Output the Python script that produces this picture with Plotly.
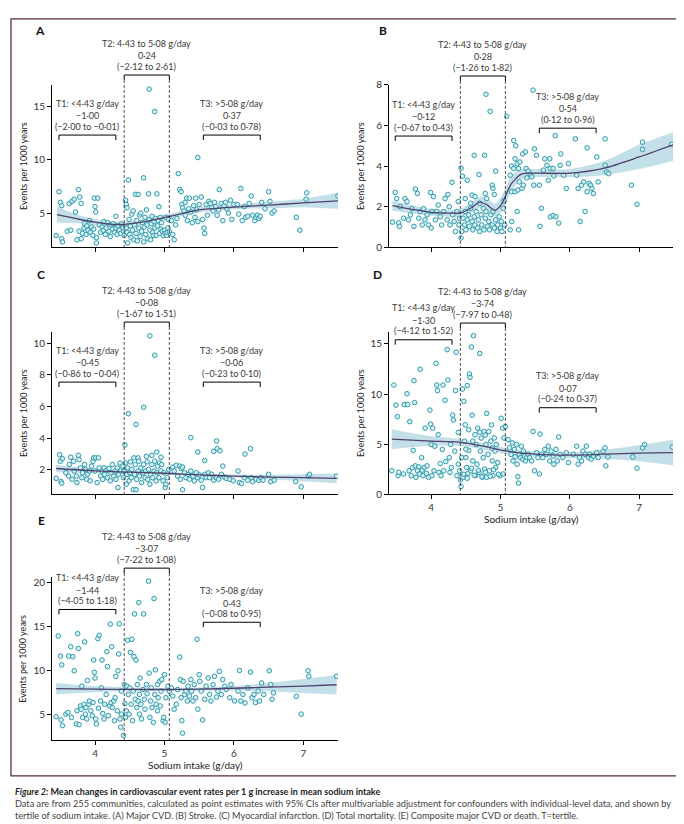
import plotly.graph_objects as go

W, H = 684, 824

# ------------------------------------------------------------------ data
xticks = [4, 5, 6, 7]

# Panel A: Major CVD
sodium_A = [
    3.44, 3.48, 3.50, 3.52, 3.52, 3.53, 3.60, 3.63, 3.65, 3.67, 3.70, 3.72, 3.74, 3.76, 3.77, 3.78, 3.80, 3.80, 3.82, 3.84,
    3.85, 3.87, 3.88, 3.90, 3.92, 3.93, 3.95, 3.97, 3.98, 3.99, 4.00, 4.01, 4.02, 4.02, 4.04, 4.06, 4.08, 4.10, 4.12, 4.13,
    4.15, 4.16, 4.18, 4.20, 4.22, 4.23, 4.25, 4.26, 4.28, 4.30, 4.30, 4.32, 4.33, 4.35, 4.37, 4.38, 4.40, 4.41, 4.42,
    4.44, 4.45, 4.46, 4.45, 4.46, 4.47, 4.48, 4.49, 4.50, 4.51, 4.52, 4.53, 4.54, 4.55, 4.56, 4.57, 4.58, 4.59, 4.60, 4.61,
    4.62, 4.63, 4.64, 4.65, 4.66, 4.67, 4.68, 4.70, 4.70, 4.71, 4.72, 4.73, 4.74, 4.75, 4.76, 4.77, 4.78, 4.78, 4.79, 4.80,
    4.81, 4.82, 4.83, 4.84, 4.85, 4.86, 4.86, 4.87, 4.88, 4.89, 4.90, 4.91, 4.92, 4.93, 4.94, 4.95, 4.96, 4.97, 4.98, 5.00,
    5.01, 5.02, 5.03, 5.04, 5.05, 5.06, 5.07,
    5.10, 5.12, 5.14, 5.16, 5.18, 5.20, 5.22, 5.24, 5.25, 5.26, 5.28, 5.30, 5.30, 5.32, 5.33, 5.35, 5.36, 5.38, 5.40, 5.42,
    5.44, 5.45, 5.46, 5.48, 5.48, 5.50, 5.53, 5.55, 5.57, 5.58, 5.60, 5.62, 5.64, 5.66, 5.68, 5.70, 5.72, 5.74, 5.76, 5.78,
    5.79, 5.82, 5.84, 5.86, 5.88, 5.90, 5.92, 5.95, 5.97, 6.00, 6.05, 6.07, 6.10, 6.12, 6.15, 6.17, 6.20, 6.22, 6.25, 6.27,
    6.30, 6.32, 6.34, 6.36, 6.38, 6.40, 6.45, 6.50, 6.52, 6.55, 6.58, 6.90, 6.95, 7.04, 7.05, 7.50,
]
events_A = [
    2.9, 7.0, 6.0, 5.7, 2.6, 2.3, 3.3, 5.9, 3.4, 6.1, 6.3, 5.1, 2.5, 7.2, 3.3, 6.5, 2.6, 5.9, 3.1, 3.6,
    4.0, 3.0, 3.8, 3.4, 4.3, 3.2, 3.7, 2.9, 3.5, 6.4, 5.6, 5.1, 2.7, 2.2, 6.4, 3.9, 3.2, 3.7, 3.4, 4.2,
    3.0, 3.6, 4.1, 3.3, 2.8, 3.9, 3.5, 4.0, 3.2, 4.7, 3.6, 3.0, 3.8, 3.4, 3.1, 4.0, 3.6, 3.3, 2.9,
    6.2, 5.8, 5.5, 3.6, 3.2, 2.2, 8.1, 4.4, 3.0, 3.8, 2.7, 4.9, 3.4, 5.2, 2.5, 3.9, 6.75, 3.1, 4.3, 2.4,
    6.75, 3.6, 4.8, 2.8, 5.0, 3.3, 4.1, 8.3, 2.3, 3.7, 4.6, 3.0, 5.3, 3.9, 2.6, 6.8, 16.6, 4.4, 3.4, 2.5,
    4.0, 4.7, 3.2, 2.9, 4.2, 14.5, 3.6, 4.5, 2.9, 6.8, 3.8, 4.3, 5.6, 3.1, 4.6, 3.5, 4.1, 3.3, 2.9, 3.4,
    3.1, 4.6, 2.9, 3.2, 3.6, 4.4, 3.3,
    4.3, 3.0, 2.5, 3.9, 4.5, 8.7, 7.2, 7.0, 5.8, 5.5, 5.2, 6.0, 4.8, 6.4, 4.3, 5.4, 6.4, 5.1, 4.1, 5.7,
    4.6, 6.4, 5.3, 4.2, 10.2, 5.8, 6.5, 4.4, 3.6, 3.1, 5.8, 4.8, 6.1, 5.9, 5.5, 5.2, 6.0, 5.6, 4.8, 5.3,
    7.2, 5.9, 4.3, 5.7, 6.0, 5.4, 5.0, 6.2, 4.4, 5.8, 5.8, 4.9, 7.3, 4.3, 5.6, 4.6, 4.7, 5.9, 6.6, 4.8,
    4.3, 4.6, 4.8, 4.5, 4.7, 6.0, 5.4, 7.0, 6.1, 5.0, 5.2, 4.6, 3.4, 6.3, 6.9, 6.6,
]
curve_x_A = [3.45, 3.75, 4.0, 4.25, 4.43, 4.75, 5.08, 5.5, 6.0, 6.5, 7.0, 7.5]
curve_y_A = [4.85, 4.45, 4.15, 3.95, 3.95, 4.25, 4.7, 5.3, 5.55, 5.75, 5.95, 6.15]
curve_lo_A = [4.1, 4.05, 3.85, 3.7, 3.7, 4.0, 4.45, 5.05, 5.35, 5.45, 5.55, 5.4]
curve_hi_A = [5.6, 4.85, 4.45, 4.2, 4.2, 4.5, 4.95, 5.55, 5.8, 6.05, 6.35, 6.9]
yticks_A = [5, 10, 15]
estimates_A = ["\u22121\u00b700", "0\u00b724", "0\u00b737"]
ci_A = ["(\u22122\u00b700 to \u22120\u00b701)", "(\u22122\u00b712 to 2\u00b761)", "(\u22120\u00b703 to 0\u00b778)"]

# Panel B: Stroke
sodium_B = [
    3.44, 3.48, 3.50, 3.53, 3.54, 3.55, 3.60, 3.62, 3.65, 3.67, 3.70, 3.72, 3.75, 3.77, 3.80, 3.82, 3.84, 3.87, 3.89, 3.91,
    3.94, 3.96, 3.99, 4.00, 4.01, 4.03, 4.06, 4.08, 4.10, 4.13, 4.15, 4.18, 4.20, 4.23, 4.24, 4.26, 4.27, 4.30, 4.31, 4.33,
    4.35, 4.37, 4.39, 4.40, 4.41,
    4.79, 4.85, 4.62, 4.77, 4.69, 4.93, 4.43, 4.45, 4.52, 4.59, 4.63, 4.78, 4.88, 4.89, 4.91, 4.80,
    4.43, 4.44, 4.46, 4.48, 4.49, 4.50, 4.52, 4.54, 4.55, 4.57, 4.59, 4.60, 4.62, 4.63, 4.65, 4.67, 4.68, 4.70, 4.72, 4.73,
    4.75, 4.76, 4.78, 4.79, 4.81, 4.83, 4.84, 4.86, 4.88, 4.89, 4.91, 4.93, 4.95, 4.96, 4.98, 5.00, 5.01, 5.02, 5.04, 5.05,
    5.06, 4.57, 4.70, 4.49,
    5.09, 5.19, 5.22, 5.16, 5.19, 5.14, 5.21, 5.24, 5.26, 5.28, 5.32, 5.36, 5.37, 5.40, 5.43, 5.16, 5.21, 5.25, 5.27, 5.31,
    5.33, 5.38, 5.45, 5.48, 5.49, 5.47, 5.52, 5.56, 5.59, 5.57, 5.24, 5.16, 5.14, 5.26, 5.62, 5.64, 5.71, 5.67, 5.72, 5.69,
    5.79, 5.76, 5.77, 5.72, 5.76, 5.80, 5.84, 5.86, 5.87, 5.91, 5.95, 5.98, 6.08, 6.10, 6.12, 6.15, 6.17, 6.20, 6.22, 6.25,
    6.25, 6.28, 6.30, 6.32, 6.34, 6.39, 6.41, 6.51, 6.51, 6.53, 6.56, 6.89, 6.97, 7.05, 7.05, 7.47,
]
events_B = [
    1.24, 2.70, 2.40, 1.20, 1.03, 2.00, 1.43, 2.40, 2.25, 1.35, 1.60, 1.90, 1.03, 2.87, 2.65, 1.43, 1.76, 1.10, 1.90, 1.35,
    1.60, 1.10, 2.70, 0.95, 1.76, 2.50, 1.35, 1.76, 2.08, 1.50, 1.10, 1.76, 2.40, 1.35, 2.60, 2.00, 1.10, 3.20, 1.60, 1.27,
    0.78, 1.76, 2.25, 1.10, 1.43,
    7.54, 6.70, 4.53, 4.53, 3.58, 3.75, 3.90, 3.50, 3.30, 2.57, 2.50, 2.65, 3.06, 2.90, 2.60, 2.40,
    0.46, 0.78, 1.43, 1.10, 1.76, 0.86, 1.35, 1.60, 1.03, 1.92, 1.27, 0.86, 1.50, 1.10, 1.76, 0.95, 1.35, 0.78, 1.60, 1.10,
    1.92, 0.86, 1.43, 1.76, 1.03, 1.27, 0.86, 1.60, 1.10, 1.76, 0.95, 1.35, 0.78, 1.10, 1.50, 0.95, 1.27, 0.78, 1.92, 2.28,
    1.10, 2.17, 2.17, 2.40,
    6.45, 5.26, 5.00, 4.00, 3.88, 3.55, 4.36, 4.12, 3.88, 4.20, 4.60, 4.70, 3.88, 3.75, 3.60, 2.74, 2.74, 2.82, 3.22, 2.90,
    3.06, 3.42, 3.47, 3.06, 4.85, 7.74, 4.53, 3.06, 1.92, 1.03, 1.76, 1.27, 0.86, 0.86, 3.80, 4.36, 4.36, 4.04, 3.88, 3.30,
    5.50, 3.88, 3.52, 1.50, 1.56, 1.50, 1.19, 4.04, 4.60, 3.55, 2.90, 4.12, 5.34, 3.55, 2.90, 1.27, 3.06, 3.22, 1.76, 4.90,
    2.74, 3.14, 3.06, 2.90, 2.65, 4.45, 3.22, 5.34, 4.04, 3.71, 3.63, 3.06, 2.12, 5.18, 4.82, 5.07,
]
curve_x_B = [3.44, 3.75, 4.0, 4.25, 4.43, 4.58, 4.7, 4.8, 4.92, 5.02, 5.15, 5.3, 5.5, 6.0, 6.5, 7.0, 7.49]
curve_y_B = [2.05, 1.85, 1.72, 1.68, 1.7, 1.95, 2.22, 2.1, 1.82, 2.15, 3.1, 3.6, 3.65, 3.65, 3.9, 4.45, 5.05]
curve_lo_B = [1.8, 1.65, 1.55, 1.5, 1.5, 1.7, 1.95, 1.8, 1.5, 1.75, 2.7, 3.35, 3.45, 3.45, 3.55, 3.85, 4.25]
curve_hi_B = [2.3, 2.05, 1.9, 1.85, 1.9, 2.2, 2.5, 2.4, 2.15, 2.55, 3.5, 3.85, 3.85, 3.85, 4.25, 5.05, 5.65]
yticks_B = [0, 2, 4, 6, 8]
estimates_B = ["\u22120\u00b712", "0\u00b728", "0\u00b754"]
ci_B = ["(\u22120\u00b767 to 0\u00b743)", "(\u22121\u00b726 to 1\u00b782)", "(0\u00b712 to 0\u00b796)"]

# Panel C: Myocardial infarction
sodium_C = [
    3.44, 3.49, 3.50, 3.51, 3.52, 3.53, 3.58, 3.62, 3.63, 3.65, 3.67, 3.69, 3.70, 3.73, 3.74, 3.76, 3.77, 3.79, 3.81, 3.82,
    3.85, 3.86, 3.88, 3.89, 3.92, 3.93, 3.95, 3.97, 3.98, 4.00, 4.01, 4.03, 4.05, 4.06, 4.08, 4.10, 4.11, 4.13, 4.14, 4.16,
    4.18, 4.20, 4.22, 4.23, 4.25, 4.27, 4.29, 4.30, 4.32, 4.33, 4.34, 4.36, 4.37,
    4.79, 4.86, 4.70, 4.48, 4.59, 4.43, 4.89, 4.82, 4.56, 4.62, 4.74, 4.95,
    4.40, 4.41, 4.42, 4.44, 4.45, 4.46, 4.47, 4.49, 4.50, 4.51, 4.52, 4.53, 4.55, 4.57, 4.58, 4.59, 4.60, 4.62, 4.63, 4.64,
    4.66, 4.67, 4.69, 4.70, 4.72, 4.73, 4.75, 4.76, 4.77, 4.79, 4.80, 4.82, 4.83, 4.85, 4.86, 4.88, 4.89, 4.90, 4.92, 4.93,
    4.95, 4.96, 4.98, 4.99, 5.01, 5.02, 5.04, 5.06,
    5.38, 5.48, 5.75, 5.76, 5.80, 5.71, 5.84, 6.16, 6.24, 5.58, 5.12, 5.17, 5.22, 5.24, 5.26, 5.14, 5.19, 5.23, 5.26, 5.29,
    5.31, 5.34, 5.36, 5.38, 5.41, 5.43, 5.46, 5.48, 5.50, 5.53, 5.55, 5.58, 5.60, 5.63, 5.65, 5.68, 5.71, 5.75, 5.78, 5.82,
    5.86, 5.89, 5.94, 5.99, 6.06, 6.08, 6.11, 6.15, 6.20, 6.25, 6.27, 6.32, 6.36, 6.39, 6.42, 6.50, 6.53, 6.58, 6.89, 6.97,
    7.07, 7.09, 7.48,
]
events_C = [
    1.46, 2.95, 2.54, 1.25, 1.15, 2.70, 1.81, 1.60, 2.33, 2.79, 1.40, 2.54, 1.92, 1.60, 1.19, 2.91, 2.64, 2.12, 1.50, 1.81,
    2.33, 2.02, 1.40, 1.71, 1.92, 1.30, 2.23, 2.54, 2.75, 1.92, 2.75, 1.19, 2.75, 2.12, 1.60, 1.92, 1.40, 2.12, 1.71, 1.96,
    1.50, 2.08, 1.30, 1.81, 2.33, 1.60, 1.92, 1.40, 2.12, 0.88, 1.71, 2.43, 1.92,
    10.45, 9.23, 5.95, 5.54, 4.86, 3.57, 3.12, 2.91, 2.75, 2.75, 2.85, 2.79,
    2.23, 1.50, 1.92, 2.43, 1.09, 1.71, 2.12, 1.30, 1.81, 2.50, 1.50, 2.02, 0.74, 1.71, 2.33, 0.74, 1.40, 1.92, 2.54, 1.60,
    2.12, 1.19, 1.81, 2.33, 1.50, 1.92, 2.50, 1.40, 2.02, 1.09, 1.71, 2.33, 1.50, 1.92, 2.54, 1.30, 1.81, 2.23, 1.50, 2.43,
    1.92, 2.33, 1.30, 1.81, 0.88, 1.09, 1.50, 2.02,
    4.03, 3.12, 3.82, 3.33, 3.20, 3.16, 2.23, 2.99, 3.33, 2.58, 2.17, 2.29, 2.23, 2.08, 2.17, 1.92, 1.60, 1.40, 0.74, 1.81,
    1.50, 1.71, 1.40, 1.92, 1.60, 1.30, 1.81, 1.50, 1.67, 1.34, 0.88, 1.71, 1.50, 1.81, 1.50, 1.71, 1.34, 1.50, 1.40, 1.71,
    1.54, 1.46, 1.40, 1.30, 1.92, 1.19, 1.13, 1.50, 1.34, 1.50, 1.25, 1.40, 1.34, 1.50, 1.34, 1.71, 1.25, 1.34, 1.25, 0.92,
    1.60, 1.71, 1.59,
]
curve_x_C = [3.44, 4.0, 4.5, 5.0, 5.5, 6.0, 6.5, 7.0, 7.48]
curve_y_C = [2.08, 1.93, 1.85, 1.78, 1.68, 1.6, 1.54, 1.5, 1.45]
curve_lo_C = [1.85, 1.8, 1.75, 1.7, 1.6, 1.5, 1.4, 1.28, 1.15]
curve_hi_C = [2.3, 2.06, 1.95, 1.86, 1.76, 1.7, 1.68, 1.72, 1.78]
yticks_C = [2, 4, 6, 8, 10]
estimates_C = ["\u22120\u00b745", "\u22120\u00b708", "\u22120\u00b706"]
ci_C = ["(\u22120\u00b786 to \u22120\u00b704)", "(\u22121\u00b767 to 1\u00b751)", "(\u22120\u00b723 to 0\u00b710)"]

# Panel D: Total mortality
sodium_D = [
    3.43, 3.46, 3.49, 3.51, 3.52, 3.53, 3.60, 3.61, 3.65, 3.66, 3.69, 3.68, 3.71, 3.73, 3.74, 3.75, 3.76, 3.77, 3.78, 3.80,
    3.82, 3.83, 3.84, 3.86, 3.87, 3.88, 3.90, 3.91, 3.93, 3.94, 3.96, 3.98, 3.99, 4.00, 4.01, 4.02, 4.04, 4.05, 4.07, 4.08,
    4.09, 4.10, 4.11, 4.13, 4.14, 4.16, 4.17, 4.18, 4.20, 4.21, 4.23, 4.24, 4.26, 4.27, 4.28, 4.29, 4.31, 4.32, 4.34, 4.35,
    4.36, 4.37, 4.39, 4.39,
    4.41, 4.42, 4.43, 4.44, 4.45, 4.46, 4.47, 4.48, 4.49, 4.50, 4.51, 4.52, 4.53, 4.54, 4.54, 4.55, 4.56, 4.57, 4.58, 4.59,
    4.60, 4.61, 4.63, 4.64, 4.65, 4.66, 4.67, 4.69, 4.70, 4.71, 4.72, 4.74, 4.75, 4.76, 4.77, 4.79, 4.80, 4.80, 4.82, 4.83,
    4.84, 4.86, 4.87, 4.88, 4.89, 4.91, 4.92, 4.93, 4.94, 4.96, 4.99, 5.01, 5.03, 5.04, 5.05, 5.07,
    4.47, 4.52, 4.58, 4.62, 4.68, 4.73, 4.78, 4.85, 4.90, 4.97, 4.50, 4.60, 4.70, 4.78, 4.88,
    5.11, 5.13, 5.15, 5.17, 5.18, 5.20, 5.21, 5.23, 5.24, 5.25, 5.26, 5.27, 5.29, 5.30, 5.32, 5.33, 5.35, 5.36, 5.38, 5.40,
    5.42, 5.45, 5.47, 5.49, 5.52, 5.54, 5.56, 5.57, 5.59, 5.61, 5.64, 5.66, 5.69, 5.71, 5.73, 5.76, 5.77, 5.80, 5.82, 5.84,
    5.86, 5.90, 5.95, 5.98, 6.05, 6.10, 6.12, 6.14, 6.17, 6.19, 6.22, 6.24, 6.27, 6.29, 6.31, 6.34, 6.39, 6.41, 6.48, 6.51,
    6.52, 6.55, 6.91, 6.97, 7.05, 7.08, 7.48,
]
events_D = [
    2.35, 10.9, 8.9, 7.75, 1.86, 2.19, 2.03, 8.95, 10.03, 8.95, 7.25, 2.35, 1.86, 2.68, 4.38, 11.34, 9.15, 2.84, 1.70, 2.35,
    2.75, 2.03, 12.48, 3.66, 2.42, 1.86, 2.68, 6.60, 2.09, 2.84, 1.70, 8.40, 7.00, 4.97, 1.86, 6.60, 2.35, 4.80, 13.07, 10.9,
    10.35, 5.95, 2.19, 3.07, 1.86, 4.48, 10.9, 2.35, 9.38, 3.27, 14.44, 11.4, 3.66, 2.19, 4.97, 2.68, 7.90, 7.42, 4.31, 10.35,
    14.18, 1.86, 3.00, 6.17,
    2.35, 1.44, 0.78, 3.66, 10.5, 1.70, 9.28, 5.30, 6.93, 3.66, 2.68, 10.85, 2.09, 6.44, 4.38, 12.0, 11.67, 2.35, 14.7, 7.90,
    3.33, 15.82, 5.95, 1.86, 4.97, 3.00, 6.60, 2.19, 14.05, 4.31, 5.62, 1.70, 3.66, 6.27, 2.52, 4.97, 8.07, 1.70, 3.99, 6.27,
    2.35, 5.30, 6.93, 3.33, 1.86, 5.62, 4.31, 2.68, 4.97, 3.17, 1.86, 7.58, 6.60, 2.03, 5.62, 6.76,
    2.0, 1.6, 2.6, 1.9, 2.4, 1.75, 2.2, 1.8, 2.45, 2.0, 4.5, 5.3, 6.2, 5.9, 4.6,
    5.46, 4.64, 3.99, 5.13, 3.33, 4.48, 3.73, 4.97, 3.00, 1.76, 1.11, 3.99, 3.66, 4.80, 3.50, 4.31, 3.82, 3.33, 3.66, 3.99,
    3.66, 3.33, 6.27, 2.35, 4.15, 3.66, 2.03, 6.01, 3.99, 3.66, 4.48, 3.99, 4.80, 3.33, 4.31, 3.82, 3.00, 4.48, 3.33, 5.72,
    3.99, 3.66, 4.15, 3.17, 3.99, 4.80, 3.00, 3.66, 3.33, 4.31, 3.99, 4.80, 3.66, 3.99, 3.50, 3.82, 4.15, 3.66, 4.31, 4.64,
    2.84, 3.73, 3.73, 2.61, 4.64, 4.97, 4.71,
]
curve_x_D = [3.43, 4.0, 4.4, 4.75, 5.1, 5.5, 6.0, 6.5, 7.0, 7.49]
curve_y_D = [5.5, 5.3, 5.2, 4.8, 4.3, 4.0, 3.9, 4.0, 4.1, 4.15]
curve_lo_D = [4.5, 4.85, 4.85, 4.5, 4.0, 3.75, 3.6, 3.55, 3.3, 2.9]
curve_hi_D = [6.5, 5.8, 5.55, 5.1, 4.6, 4.25, 4.2, 4.45, 4.9, 5.45]
yticks_D = [0, 5, 10, 15]
estimates_D = ["\u22121\u00b730", "\u22123\u00b774", "0\u00b707"]
ci_D = ["(\u22124\u00b712 to 1\u00b752)", "(\u22127\u00b797 to 0\u00b748)", "(\u22120\u00b724 to 0\u00b737)"]

# Panel E: Composite major CVD or death
sodium_E = [
    3.44, 3.47, 3.50, 3.51, 3.52, 3.53, 3.58, 3.61, 3.62, 3.65, 3.66, 3.68, 3.70, 3.73, 3.74, 3.75, 3.76, 3.77, 3.79, 3.80,
    3.81, 3.82, 3.84, 3.85, 3.86, 3.87, 3.88, 3.89, 3.91, 3.92, 3.94, 3.96, 3.97, 3.98, 3.99, 4.00, 4.01, 4.02, 4.04, 4.05,
    4.06, 4.08, 4.09, 4.10, 4.11, 4.13, 4.14, 4.16, 4.17, 4.18, 4.19, 4.21, 4.22, 4.23, 4.24, 4.25, 4.27, 4.28, 4.29, 4.30,
    4.32, 4.33, 4.34, 4.35, 4.36, 4.37, 4.38, 4.38,
    4.41, 4.42, 4.43, 4.44, 4.45, 4.46, 4.47, 4.48, 4.49, 4.50, 4.51, 4.52, 4.53, 4.54, 4.55, 4.56, 4.57, 4.58, 4.59, 4.60,
    4.61, 4.62, 4.63, 4.64, 4.64, 4.65, 4.66, 4.67, 4.69, 4.70, 4.71, 4.72, 4.74, 4.75, 4.77, 4.78, 4.79, 4.80, 4.81, 4.82,
    4.84, 4.85, 4.86, 4.87, 4.88, 4.90, 4.90, 4.91, 4.93, 4.94, 4.95, 4.96, 4.98, 4.99, 5.00, 5.01, 5.02, 5.05, 5.07,
    5.10, 5.12, 5.14, 5.17, 5.19, 5.22, 5.23, 5.24, 5.25, 5.26, 5.27, 5.29, 5.31, 5.33, 5.34, 5.36, 5.38, 5.39, 5.41, 5.43,
    5.45, 5.47, 5.48, 5.50, 5.51, 5.53, 5.55, 5.58, 5.60, 5.63, 5.65, 5.67, 5.70, 5.72, 5.75, 5.77, 5.79, 5.82, 5.84, 5.87,
    5.89, 5.94, 5.96, 6.01, 6.06, 6.08, 6.10, 6.13, 6.16, 6.20, 6.24, 6.26, 6.29, 6.31, 6.35, 6.37, 6.40, 6.43, 6.51, 6.53,
    6.55, 6.57, 6.90, 6.97, 7.07, 7.08, 7.48,
]
events_E = [
    4.78, 13.92, 11.65, 4.41, 10.65, 3.77, 5.07, 5.26, 11.65, 12.70, 4.70, 11.58, 9.98, 3.96, 5.45, 14.18, 12.50, 3.88, 6.00, 5.63,
    8.23, 4.70, 6.19, 13.25, 5.07, 5.82, 4.52, 8.87, 6.19, 6.56, 5.45, 4.89, 6.38, 11.20, 9.80, 9.16, 4.52, 3.96, 13.62, 5.74,
    14.00, 6.56, 8.05, 11.20, 5.15, 4.52, 6.19, 7.30, 12.14, 10.46, 4.89, 6.00, 15.26, 6.38, 12.70, 5.82, 6.56, 4.33, 6.93, 9.35,
    5.45, 9.98, 11.88, 15.30, 4.52, 3.59, 7.68, 5.07,
    2.66, 8.42, 6.26, 4.70, 5.45, 8.23, 13.44, 7.30, 5.07, 8.05, 12.06, 6.19, 13.55, 4.33, 7.68, 11.58, 16.41, 6.75, 11.20, 5.82,
    8.42, 6.56, 17.71, 5.07, 7.30, 9.16, 6.19, 4.52, 7.86, 16.41, 6.75, 5.63, 8.42, 7.38, 20.13, 9.72, 4.70, 6.56, 8.05, 5.82,
    4.14, 18.16, 7.30, 10.09, 6.19, 8.42, 5.45, 6.93, 8.79, 6.00, 7.68, 8.98, 4.33, 4.70, 9.54, 4.14, 6.93, 8.23, 7.68,
    8.05, 7.12, 5.63, 6.19, 7.86, 11.54, 8.98, 6.93, 4.33, 2.92, 8.79, 7.30, 7.68, 6.56, 8.23, 7.12, 8.98, 7.68, 6.56, 8.42,
    6.93, 13.55, 5.63, 9.54, 8.79, 7.68, 4.41, 6.75, 8.23, 9.16, 7.30, 6.56, 8.42, 9.35, 7.00, 7.68, 9.91, 7.30, 8.98, 8.23,
    7.86, 6.93, 8.42, 6.56, 7.68, 10.02, 6.56, 7.30, 6.34, 8.05, 9.83, 6.93, 7.30, 6.38, 7.68, 6.56, 8.60, 7.30, 9.98, 8.42,
    6.75, 7.49, 7.08, 5.07, 9.98, 9.35, 9.35,
]
curve_x_E = [3.44, 4.0, 4.5, 5.0, 5.5, 6.0, 6.5, 7.0, 7.48]
curve_y_E = [7.95, 7.9, 7.87, 7.86, 7.9, 8.0, 8.12, 8.25, 8.4]
curve_lo_E = [7.3, 7.55, 7.65, 7.68, 7.7, 7.75, 7.65, 7.45, 7.3]
curve_hi_E = [8.6, 8.25, 8.1, 8.04, 8.1, 8.25, 8.6, 9.05, 9.5]
yticks_E = [5, 10, 15, 20]
estimates_E = ["\u22121\u00b744", "\u22123\u00b707", "0\u00b743"]
ci_E = ["(\u22124\u00b705 to 1\u00b718)", "(\u22127\u00b722 to 1\u00b708)", "(\u22120\u00b708 to 0\u00b795)"]

tier_labels = ["T1: <4\u00b743 g/day", "T2: 4\u00b743 to 5\u00b708 g/day", "T3: >5\u00b708 g/day"]
tertile_spans = [(3.48, 4.30), (4.42, 5.07), (5.56, 6.38)]
y_title = "Events per 1000 years"
x_title = "Sodium intake (g/day)"

# ------------------------------------------------------------------ layout / style
panels = [
    dict(letter="A", sx=sodium_A, sy=events_A, cx=curve_x_A, cy=curve_y_A, lo=curve_lo_A, hi=curve_hi_A,
         yt=yticks_A, est=estimates_A, ci=ci_A,
         box=(44, 71, 330, 236), xr=(3.38, 7.5), yr=(1.8, 17.0), by=(122, 61, 122), xlab=False, lpos=(32, 16)),
    dict(letter="B", sx=sodium_B, sy=events_B, cx=curve_x_B, cy=curve_y_B, lo=curve_lo_B, hi=curve_hi_B,
         yt=yticks_B, est=estimates_B, ci=ci_B,
         box=(381, 71, 665, 236), xr=(3.39, 7.49), yr=(0, 8), by=(123, 62, 115), xlab=False, lpos=(375, 16)),
    dict(letter="C", sx=sodium_C, sy=events_C, cx=curve_x_C, cy=curve_y_C, lo=curve_lo_C, hi=curve_hi_C,
         yt=yticks_C, est=estimates_C, ci=ci_C,
         box=(44, 322, 330, 487), xr=(3.38, 7.5), yr=(0.45, 10.7), by=(373, 312, 373), xlab=False, lpos=(33, 264)),
    dict(letter="D", sx=sodium_D, sy=events_D, cx=curve_x_D, cy=curve_y_D, lo=curve_lo_D, hi=curve_hi_D,
         yt=yticks_D, est=estimates_D, ci=ci_D,
         box=(381, 322, 665, 487), xr=(3.39, 7.49), yr=(0, 16.2), by=(330, 313, 399), xlab=True, lpos=(369, 264)),
    dict(letter="E", sx=sodium_E, sy=events_E, cx=curve_x_E, cy=curve_y_E, lo=curve_lo_E, hi=curve_hi_E,
         yt=yticks_E, est=estimates_E, ci=ci_E,
         box=(44, 571, 330, 737), xr=(3.38, 7.5), yr=(2.1, 20.6), by=(604, 562, 617), xlab=True, lpos=(33, 514)),
]

TICK_FONT = dict(family="Lato, 'Open Sans', sans-serif", size=10, color="#333")
SMALL_FONT = "'Liberation Sans Narrow', 'Arial Narrow', Lato, sans-serif"
POINT_EDGE = "#2c9aaa"
POINT_FILL = "rgba(214,240,245,0.8)"
LINE_COL = "#4f416e"
BAND_COL = "rgba(172,210,222,0.72)"


def PX(p):
    return p / W


def PY(p):
    return 1 - p / H


fig = go.Figure()
shapes = []
annotations = []

for i, p in enumerate(panels):
    n = "" if i == 0 else str(i + 1)
    xa, ya = "x" + n, "y" + n
    x0, y0, x1, y1 = p["box"]

    fig.add_trace(go.Scatter(x=p["cx"], y=p["lo"], mode="lines", line=dict(width=0, shape="spline", smoothing=0.7),
                             xaxis=xa, yaxis=ya, showlegend=False, hoverinfo="skip"))
    fig.add_trace(go.Scatter(x=p["cx"], y=p["hi"], mode="lines", line=dict(width=0, shape="spline", smoothing=0.7),
                             fill="tonexty", fillcolor=BAND_COL,
                             xaxis=xa, yaxis=ya, showlegend=False, hoverinfo="skip"))
    m = min(len(p["sx"]), len(p["sy"]))
    fig.add_trace(go.Scatter(x=p["sx"][:m], y=p["sy"][:m], mode="markers",
                             marker=dict(symbol="circle", size=4.6, color=POINT_FILL,
                                         line=dict(color=POINT_EDGE, width=1)),
                             xaxis=xa, yaxis=ya, showlegend=False))
    fig.add_trace(go.Scatter(x=p["cx"], y=p["cy"], mode="lines",
                             line=dict(color=LINE_COL, width=1.3, shape="spline", smoothing=0.7),
                             xaxis=xa, yaxis=ya, showlegend=False))

    fig.layout["xaxis" + n] = dict(
        domain=[PX(x0), PX(x1)], range=list(p["xr"]), anchor=ya,
        showline=True, linecolor="black", linewidth=1, showgrid=False, zeroline=False,
        ticks="outside", ticklen=4, tickcolor="black", tickwidth=1,
        tickvals=xticks, showticklabels=p["xlab"], tickfont=TICK_FONT)
    fig.layout["yaxis" + n] = dict(
        domain=[PY(y1), PY(y0)], range=list(p["yr"]), anchor=xa,
        showline=True, linecolor="black", linewidth=1, showgrid=False, zeroline=False,
        ticks="outside", ticklen=4, tickcolor="black", tickwidth=1,
        tickvals=p["yt"], showticklabels=True, tickfont=TICK_FONT)

    # panel letter
    annotations.append(dict(text="<b>%s</b>" % p["letter"], x=PX(p["lpos"][0]), y=PY(p["lpos"][1]),
                            xref="paper", yref="paper", showarrow=False, xanchor="center", yanchor="middle",
                            font=dict(family="Lato, sans-serif", size=12, color="#111")))
    # y title
    annotations.append(dict(text=y_title, x=PX(x0 - 29), y=PY((y0 + y1) / 2), xref="paper", yref="paper",
                            showarrow=False, textangle=-90, xanchor="center", yanchor="middle",
                            font=dict(family=SMALL_FONT, size=9, color="#222")))
    if p["xlab"]:
        annotations.append(dict(text=x_title, x=PX((x0 + x1) / 2), y=PY(y1 + 25), xref="paper", yref="paper",
                                showarrow=False, xanchor="center", yanchor="middle",
                                font=dict(family=SMALL_FONT, size=10, color="#222")))

    # tertile brackets and labels
    for t in range(3):
        a, b = tertile_spans[t]
        yb = p["by"][t]
        shapes.append(dict(type="path", xref=xa, yref="paper",
                           path="M %f,%f L %f,%f L %f,%f L %f,%f" % (a, PY(yb + 5), a, PY(yb), b, PY(yb), b, PY(yb + 5)),
                           line=dict(color="black", width=1)))
        xm = (a + b) / 2
        for txt, off in zip([tier_labels[t], p["est"][t], p["ci"][t]], [-32.5, -19.5, -9]):
            annotations.append(dict(text=txt, x=xm, y=PY(yb + off), xref=xa, yref="paper", showarrow=False,
                                    xanchor="center", yanchor="middle",
                                    font=dict(family=SMALL_FONT, size=9, color="#3a3a3a")))
        if t == 1:
            for xv in (a, b):
                shapes.append(dict(type="line", xref=xa, yref="paper", x0=xv, x1=xv, y0=PY(yb + 5), y1=PY(y1),
                                   line=dict(color="#222", width=0.8, dash="3px,2px")))

# outer frame
shapes.append(dict(type="rect", xref="paper", yref="paper", x0=PX(3), x1=PX(674), y0=PY(773), y1=PY(4),
                   line=dict(color="#5a2b3c", width=1.3), fillcolor="rgba(0,0,0,0)"))

# caption
cap_title = ("<i><b>Figure 2:</b></i><b> Mean changes in cardiovascular event rates per 1 g increase "
             "in mean sodium intake</b>")
cap_1 = ("Data are from 255 communities, calculated as point estimates with 95% CIs after multivariable adjustment "
         "for confounders with individual-level data, and shown by")
cap_2 = ("tertile of sodium intake. (A) Major CVD. (B) Stroke. (C) Myocardial infarction. (D) Total mortality. "
         "(E) Composite major CVD or death. T=tertile.")
for txt, yy, col, sz in [(cap_title, 789, "#222", 9), (cap_1, 801, "#444", 9.2), (cap_2, 813, "#444", 9.2)]:
    annotations.append(dict(text=txt, x=PX(5), y=PY(yy), xref="paper", yref="paper", showarrow=False,
                            xanchor="left", yanchor="middle",
                            font=dict(family="Lato, sans-serif", size=sz, color=col)))

fig.update_layout(width=W, height=H, margin=dict(l=0, r=0, t=0, b=0), autosize=False,
                  paper_bgcolor="white", plot_bgcolor="white", showlegend=False,
                  shapes=shapes, annotations=annotations)

fig.write_html("out.html")
